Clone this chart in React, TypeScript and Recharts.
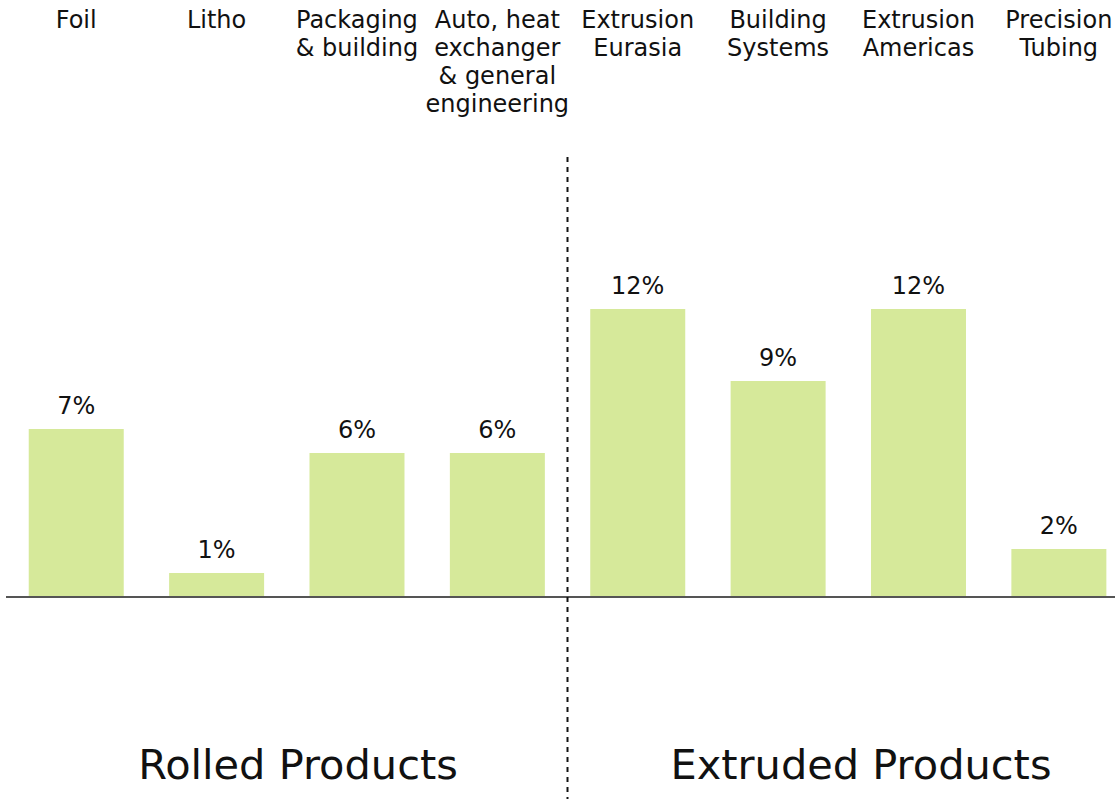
import { BarChart, Bar, XAxis, YAxis, ReferenceLine, LabelList } from 'recharts';

// segments, top to bottom label lines
const segments = [
  'Foil',
  'Litho',
  'Packaging\n& building',
  'Auto, heat\nexchanger\n& general\nengineering',
  'Extrusion\nEurasia',
  'Building\nSystems',
  'Extrusion\nAmericas',
  'Precision\nTubing',
];

// share in %
const shares = [7, 1, 6, 6, 12, 9, 12, 2];

const groupLabels = ['Rolled Products', 'Extruded Products'];

const FONT = '"DejaVu Sans", Verdana, sans-serif';
const BAR_COLOR = '#d6e99a';
const TEXT_COLOR = '#111111';

const data = segments.map((name, i) => ({ name, value: shares[i] }));

const SegmentTick = (props: any) => {
  const { x, payload } = props;
  const lines = String(payload.value).split('\n');
  return (
    <text x={x} y={28} textAnchor="middle" fontSize={24} fill={TEXT_COLOR} fontFamily={FONT}>
      {lines.map((line, i) => (
        <tspan key={i} x={x} dy={i === 0 ? 0 : 28}>
          {line}
        </tspan>
      ))}
    </text>
  );
};

const groupStyle = {
  position: 'absolute' as const,
  width: 420,
  top: 739,
  textAlign: 'center' as const,
  fontSize: 41.5,
  lineHeight: '52px',
  color: TEXT_COLOR,
};

const App = () => {
  return (
    <div
      style={{
        position: 'absolute',
        left: 0,
        top: 0,
        width: 1115,
        height: 799,
        overflow: 'hidden',
        background: '#fff',
        fontFamily: FONT,
      }}
    >
      <BarChart
        width={1130}
        height={799}
        data={data}
        margin={{ top: 7, right: 1, left: 6, bottom: 0 }}
        barCategoryGap="16.2%"
      >
        <XAxis
          dataKey="name"
          orientation="top"
          height={150}
          axisLine={false}
          tickLine={false}
          interval={0}
          tick={<SegmentTick />}
        />
        <YAxis hide domain={[-8.417, 18.333]} allowDataOverflow />
        <Bar dataKey="value" fill={BAR_COLOR} isAnimationActive={false}>
          <LabelList
            dataKey="value"
            position="top"
            offset={15}
            formatter={(v: any) => `${v}%`}
            style={{ fontSize: 24, fill: TEXT_COLOR, fontFamily: FONT }}
          />
        </Bar>
        <ReferenceLine y={0} stroke="#555555" strokeWidth={2} />
        <ReferenceLine
          x={segments[4]}
          position="start"
          stroke="#111111"
          strokeWidth={2}
          strokeDasharray="5 5"
        />
      </BarChart>
      <div style={{ ...groupStyle, left: 88 }}>{groupLabels[0]}</div>
      <div style={{ ...groupStyle, left: 651 }}>{groupLabels[1]}</div>
    </div>
  );
};

export default App;
